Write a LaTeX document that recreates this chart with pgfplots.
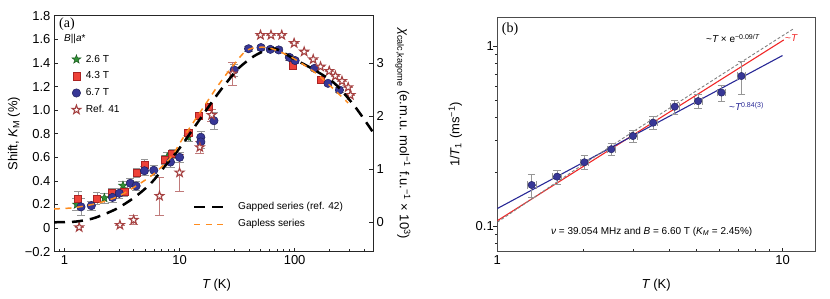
\documentclass[border=0pt]{standalone}
\usepackage{pgfplots}
\pgfplotsset{compat=1.18}
\usepackage{fontspec}
\setmainfont{Liberation Sans}
\newfontfamily\seriffont{Liberation Serif}
\definecolor{cgreen}{RGB}{50,145,55}
\definecolor{cgreend}{RGB}{25,90,30}
\definecolor{cred}{RGB}{238,66,56}
\definecolor{credd}{RGB}{170,35,35}
\definecolor{cblue}{RGB}{55,55,150}
\definecolor{cblued}{RGB}{30,30,90}
\definecolor{cstar}{RGB}{165,65,65}
\definecolor{corange}{RGB}{255,140,30}
\definecolor{cerr}{RGB}{150,150,150}
\definecolor{lred}{RGB}{240,40,40}
\definecolor{lblue}{RGB}{40,40,150}
\pgfdeclareplotmark{fivestar}{%
  \pgfpathmoveto{\pgfpointpolar{90}{\pgfplotmarksize}}%
  \pgfpathlineto{\pgfpointpolar{126}{0.4\pgfplotmarksize}}%
  \pgfpathlineto{\pgfpointpolar{162}{\pgfplotmarksize}}%
  \pgfpathlineto{\pgfpointpolar{198}{0.4\pgfplotmarksize}}%
  \pgfpathlineto{\pgfpointpolar{234}{\pgfplotmarksize}}%
  \pgfpathlineto{\pgfpointpolar{270}{0.4\pgfplotmarksize}}%
  \pgfpathlineto{\pgfpointpolar{306}{\pgfplotmarksize}}%
  \pgfpathlineto{\pgfpointpolar{342}{0.4\pgfplotmarksize}}%
  \pgfpathlineto{\pgfpointpolar{18}{\pgfplotmarksize}}%
  \pgfpathlineto{\pgfpointpolar{54}{0.4\pgfplotmarksize}}%
  \pgfpathclose
  \pgfusepathqfillstroke
}
\newcommand{\labfont}{\fontsize{13}{15}\selectfont}
\pgfplotsset{
  every axis/.append style={
    /pgf/number format/assume math mode=true,
    tick label style={font=\fontsize{13}{14}\selectfont},
    axis line style={black!85, line width=0.7pt},
    major tick length=4pt, minor tick length=2.5pt,
    every tick/.style={black!85, line width=0.6pt},
  },
}
\begin{document}
\begin{tikzpicture}
\useasboundingbox (0,0) rectangle (830pt,299pt);
% ---------------- panel (a), left axis: data
\begin{axis}[
  at={(54pt,47.3pt)}, anchor=south west, scale only axis,
  width=319pt, height=236pt,
  xmode=log, xmin=0.81, xmax=480, ymin=-0.2, ymax=1.8,
  xtick={1,10,100}, xticklabels={1,10,100},
  minor xtick={0.9,2,3,4,5,6,7,8,9,20,30,40,50,60,70,80,90,200,300,400},
  ytick={-0.2,0,0.2,0.4,0.6,0.8,1.0,1.2,1.4,1.6,1.8},
  yticklabels={−0.2,0,0.2,0.4,0.6,0.8,1.0,1.2,1.4,1.6,1.8},
  xtick pos=left, ytick pos=left,
  xlabel={{\itshape T} (K)},
  ylabel={Shift, {\itshape K}\textsubscript{M} (\%)},
  every axis x label/.style={at={(rel axis cs:0.5,0)}, anchor=center, yshift=-33pt, xshift=3pt, font=\labfont},
  every axis y label/.style={at={(rel axis cs:0,0.5)}, anchor=center, xshift=-40pt, rotate=90, font=\labfont},
  error bars/error bar style={cerr, line width=0.6pt},
  legend style={draw=none, fill=none, at={(0.056,0.838)}, anchor=north west, inner sep=0pt,
    row sep=6.3pt, font=\fontsize{10.2}{11}\selectfont,
    nodes={inner sep=1pt, text height=7pt, text depth=1.5pt},
    /tikz/every odd column/.append style={column sep=4pt}},
  legend cell align=left,
  legend image code/.code={\draw[mark repeat=2,mark phase=2] plot coordinates {(0pt,0pt)(5pt,0pt)(10pt,0pt)};},
]
\addplot[only marks, mark=fivestar, mark size=4.6pt, mark options={fill=cgreen, draw=cgreend, line width=0.5pt},
  error bars/.cd, y dir=both, y explicit] coordinates {
  (1.28,0.20) +- (0,0.05)
  (2.22,0.255) +- (0,0.04)
  (3.22,0.36) +- (0,0.04)
  (7.8,0.60) +- (0,0.04)
  (11.9,0.77) +- (0,0.03)
};
\addlegendentry{2.6 T}
\addplot[only marks, mark=square*, mark size=3.6pt, mark options={fill=cred, draw=credd, line width=0.5pt},
  error bars/.cd, y dir=both, y explicit] coordinates {
  (1.31,0.25) +- (0,0.06)
  (1.91,0.25) +- (0,0.05)
  (2.56,0.30) +- (0,0.04)
  (3.31,0.31) +- (0,0.04)
  (4.21,0.47) +- (0,0.04)
  (4.98,0.54) +- (0,0.04)
  (7.39,0.58) +- (0,0.04)
  (8.63,0.63) +- (0,0.04)
  (11.9,0.81) +- (0,0.03)
  (14.7,0.95) +- (0,0.03)
  (18.0,1.03) +- (0,0.03)
  (96.4,1.38) +- (0,0.02)
  (170,1.26) +- (0,0.02)
};
\addlegendentry{4.3 T}
\addplot[only marks, mark=*, mark size=4.2pt, mark options={fill=cblue, draw=cblued, line width=0.5pt},
  error bars/.cd, y dir=both, y explicit] coordinates {
  (1.39,0.18) +- (0,0.07)
  (1.71,0.19) +- (0,0.04)
  (2.61,0.26) +- (0,0.04)
  (2.99,0.295) +- (0,0.04)
  (3.73,0.38) +- (0,0.04)
  (4.19,0.357) +- (0,0.04)
  (4.95,0.486) +- (0,0.04)
  (5.97,0.49) +- (0,0.04)
  (8.34,0.56) +- (0,0.04)
  (10.0,0.60) +- (0,0.04)
  (15.3,0.77) +- (0,0.05)
  (15.3,0.73) +- (0,0.05)
  (19.9,0.91) +- (0,0.07)
  (29.8,1.34) +- (0,0.05)
  (39.8,1.52) +- (0,0.02)
  (51,1.53) +- (0,0.02)
  (61.5,1.515) +- (0,0.02)
  (72.8,1.51) +- (0,0.02)
  (90,1.447) +- (0,0.02)
  (101,1.42) +- (0,0.02)
  (149,1.354) +- (0,0.02)
  (195,1.227) +- (0,0.02)
  (245,1.17) +- (0,0.02)
};
\addlegendentry{6.7 T}
\addplot[only marks, mark=fivestar, mark size=4.6pt, mark options={fill=white, draw=cstar, line width=1.1pt},
  error bars/.cd, y dir=both, y explicit, error bar style={cstar!70, line width=0.6pt}] coordinates {
  (1.34,0.007) +- (0,0)
  (3.03,0.026) +- (0,0)
  (3.99,0.069) +- (0,0.04)
  (6.69,0.272) +- (0,0.16)
  (10.0,0.47) +- (0,0.16)
  (15.0,0.685) +- (0,0.05)
  (19.0,0.958) +- (0,0.05)
  (28.8,1.31) +- (0,0.1)
  (50.5,1.636) +- (0,0)
  (62.3,1.636) +- (0,0)
  (77.3,1.636) +- (0,0)
  (99,1.567) +- (0,0)
  (121,1.495) +- (0,0)
  (145,1.43) +- (0,0)
  (168,1.368) +- (0,0)
  (200,1.331) +- (0,0)
  (226,1.289) +- (0,0)
  (258,1.246) +- (0,0)
  (292,1.193) +- (0,0)
  (305,1.127) +- (0,0)
};
\addlegendentry{Ref. 41}
\end{axis}
% ---------------- panel (a), right axis: calculated susceptibility
\begin{axis}[
  at={(54pt,47.3pt)}, anchor=south west, scale only axis,
  width=319pt, height=236pt,
  xmode=log, xmin=0.81, xmax=480, ymin=-0.555, ymax=3.9,
  axis y line*=right, axis x line=none,
  ytick={0,1,2,3}, yticklabels={0,1,2,3},
  ylabel={{\itshape χ}\textsubscript{calc,kagome} (e.m.u. mol\textsuperscript{−1} f.u.\textsuperscript{−1} × 10\textsuperscript{3})},
  every axis y label/.style={at={(rel axis cs:1,0.5)}, anchor=center, xshift=30pt, rotate=-90, font=\labfont},
  legend style={draw=none, fill=none, at={(0.4357,0.213)}, anchor=north west, inner sep=0pt,
    row sep=6.3pt, font=\fontsize{10.1}{11}\selectfont,
    nodes={inner sep=1pt, text height=7pt, text depth=2pt},
    /tikz/every odd column/.append style={column sep=9.5pt}},
  legend cell align=left,
  legend image code/.code={\draw[#1] (0pt,0pt) -- (32pt,0pt);},
]
\addplot[black, line width=2.5pt, dash pattern=on 11pt off 7pt, smooth] coordinates {
  (0.81,0.0) (1.2,0.01) (1.5,0.04) (1.87,0.09) (2.8,0.25) (4.05,0.47) (5.66,0.74)
  (7.4,1.05) (10,1.40) (14,1.85) (20.6,2.37) (26.1,2.66) (33,2.92) (44.6,3.14)
  (60,3.27) (71.3,3.26) (99.6,3.08) (150,2.87) (223,2.62) (333,2.19) (480,1.70)
};
\addlegendentry{Gapped series (ref. 42)}
\addplot[corange, line width=1.5pt, dash pattern=on 6pt off 5.5pt, smooth] coordinates {
  (0.81,0.252) (1.21,0.276) (1.94,0.359) (2.89,0.483) (4.32,0.704) (6.05,0.924)
  (8.47,1.238) (10.9,1.617) (16.3,2.185) (21.3,2.563) (28.8,2.942) (39,3.254)
  (58,3.298) (93,3.12) (159,2.786) (292,2.252)
};
\addlegendentry{Gapless series}
\end{axis}
% ---------------- panel (b)
\begin{axis}[
  at={(497.3pt,47.3pt)}, anchor=south west, scale only axis,
  width=317.7pt, height=234.4pt,
  xmode=log, ymode=log, xmin=1, xmax=13, ymin=0.072, ymax=1.443,
  xtick={1,10}, xticklabels={1,10},
  minor xtick={2,3,4,5,6,7,8,9},
  ytick={0.1,1}, yticklabels={0.1,1},
  minor ytick={0.08,0.09,0.2,0.3,0.4,0.5,0.6,0.7,0.8,0.9},
  xtick pos=left, ytick pos=left,
  every major y tick/.append style={xshift=-4pt},
  every minor y tick/.append style={xshift=-2.5pt},
  axis line style={black!70, line width=0.7pt},
  xlabel={{\itshape T} (K)},
  ylabel={1/{\itshape T}\textsubscript{1} (ms\textsuperscript{−1})},
  every axis x label/.style={at={(rel axis cs:0.5,0)}, anchor=center, yshift=-33pt, font=\labfont},
  every axis y label/.style={at={(rel axis cs:0,0.5)}, anchor=center, xshift=-42pt, rotate=90, font=\labfont},
]
\addplot[lred, line width=1.1pt] coordinates {(1,0.107) (10.1,1.08)};
\addplot[lblue, line width=1.1pt] coordinates {(1,0.125) (10,0.885)};
\addplot[gray, line width=0.9pt, dash pattern=on 3pt off 2pt] coordinates {
  (1,0.105) (2,0.22) (3,0.335) (5,0.565) (7.5,0.852) (10.9,1.243)};
\addplot[only marks, mark=*, mark size=3.7pt, mark options={fill=cblue, draw=cblued, line width=0.4pt},
  error bars/.cd, y dir=both, y explicit, x dir=both, x explicit,
  error bar style={cerr, line width=0.6pt}] coordinates {
  (1.32,0.169) +- (0.05,0.025)
  (1.62,0.188) +- (0.06,0.017)
  (2.02,0.226) +- (0.07,0.02)
  (2.51,0.267) +- (0.09,0.02)
  (2.99,0.316) +- (0.1,0.025)
  (3.52,0.375) +- (0.12,0.03)
  (4.19,0.46) +- (0.14,0.04)
  (5.06,0.494) +- (0.17,0.045)
  (6.11,0.551) +- (0.2,0.057)
  (7.18,0.681) +- (0.24,0.14)
};
\end{axis}
% ---------------- annotations
\node[font=\seriffont\fontsize{14}{14}\selectfont, anchor=center] at (67pt,275pt) {(a)};
\node[font=\fontsize{10}{10}\selectfont, anchor=west, inner sep=0pt] at (64pt,259.7pt) {{\itshape B}||{\itshape a}*};
\node[font=\seriffont\fontsize{14}{14}\selectfont, anchor=center] at (510pt,270pt) {(b)};
\node[font=\fontsize{10}{10}\selectfont, anchor=base west, inner sep=0pt] at (706pt,256pt)
  {\textasciitilde{\itshape T} × e\textsuperscript{−0.09/{\itshape T}}};
\node[font=\fontsize{10}{10}\selectfont, anchor=base west, inner sep=0pt, text=lred] at (785pt,257pt)
  {\textasciitilde{\itshape T}};
\node[font=\fontsize{10}{10}\selectfont, anchor=base west, inner sep=0pt, text=lblue] at (729pt,188pt)
  {\textasciitilde{\itshape T}\textsuperscript{0.84(3)}};
\node[font=\fontsize{10}{10}\selectfont, anchor=center, inner sep=0pt] at (651.7pt,67.3pt)
  {{\itshape ν} = 39.054 MHz and {\itshape B} = 6.60 T ({\itshape K}\textsubscript{\itshape M} = 2.45\%)};
\end{tikzpicture}
\end{document}
